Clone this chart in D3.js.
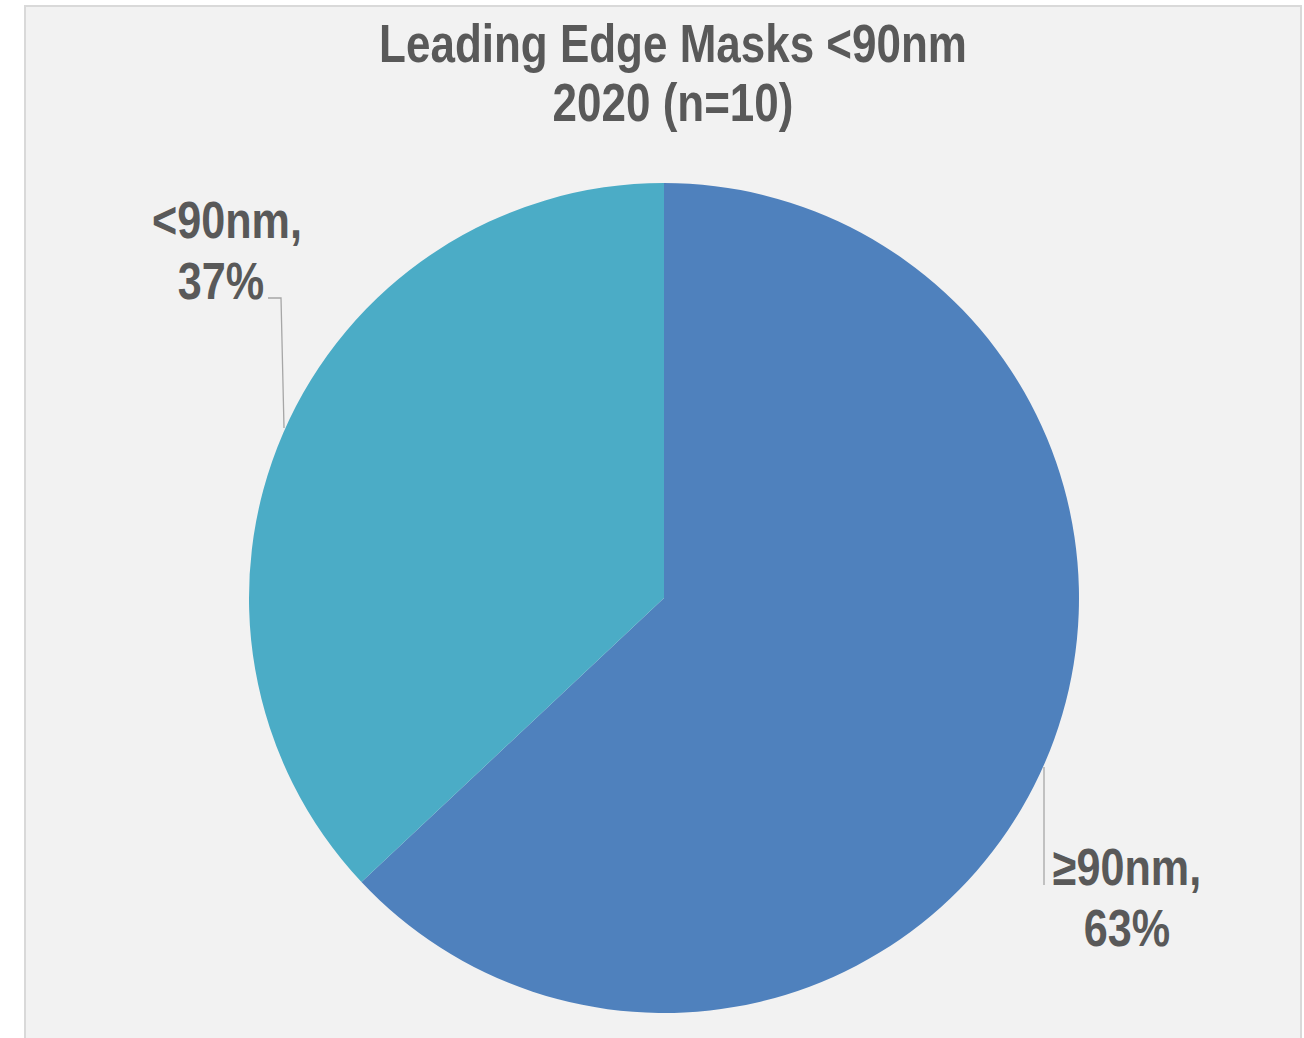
<!DOCTYPE html>
<html>
<head>
<meta charset="utf-8">
<script src="https://cdn.jsdelivr.net/npm/d3@7"></script>
<style>
  html, body { margin: 0; padding: 0; background: #ffffff; }
  #chart { width: 1304px; height: 1038px; }
</style>
</head>
<body>
<div id="chart"></div>
<script>
// --- data ---
const categories = ["≥90nm", "<90nm"];
const shares = [63, 37];
const sliceColors = ["#4f81bd", "#4bacc6"];
const titleLines = ["Leading Edge Masks <90nm", "2020 (n=10)"];

function drawPie() {
    const container = d3.select("#chart");
    container.selectAll("*").remove();

    const width = 1304;
    const height = 1038;
    const cx = 664, cy = 598;
    const radius = 415;
    const font = "'Liberation Sans Narrow', 'Arial Narrow', 'Liberation Sans', Arial, sans-serif";
    const textColor = "#595959";
    const narrow = 0.83; // squeeze to mimic Arial Narrow

    const svg = container.append("svg")
        .attr("width", width)
        .attr("height", height);

    // chart area background + border (runs past the bottom edge)
    svg.append("rect")
        .attr("x", 25).attr("y", 6)
        .attr("width", 1276).attr("height", 1060)
        .attr("fill", "#f2f2f2")
        .attr("stroke", "#d9d9d9")
        .attr("stroke-width", 2);

    // helper: centred bold text squeezed horizontally
    function narrowText(x, y, str, size) {
        svg.append("text")
            .attr("transform", `translate(${x},${y}) scale(${narrow},1)`)
            .attr("text-anchor", "middle")
            .attr("font-family", font)
            .attr("font-weight", "bold")
            .attr("font-size", size + "px")
            .attr("fill", textColor)
            .text(str);
    }

    // title
    titleLines.forEach((line, i) => narrowText(673, 62 + i * 59, line, 53));

    // pie layout, clockwise from 12 o'clock, no sorting
    const pie = d3.pie().sort(null).value(d => d);
    const arcs = pie(shares);
    const arc = d3.arc().innerRadius(0).outerRadius(radius);

    const g = svg.append("g").attr("transform", `translate(${cx},${cy})`);
    g.selectAll("path")
        .data(arcs)
        .join("path")
        .attr("d", arc)
        .attr("fill", (d, i) => sliceColors[i]);

    // data labels placed outside like the original, with leader lines
    const labelPos = [
        { x1: 1127, x2: 1127, y: 885, lead: [[1044, 885], [1044, 767]] },            // ≥90nm
        { x1: 227,  x2: 221,  y: 238, lead: [[268, 298], [281, 298], [284, 428]] }  // <90nm
    ];

    const line = d3.line();
    arcs.forEach((d, i) => {
        const p = labelPos[i];
        svg.append("path")
            .attr("d", line(p.lead))
            .attr("fill", "none")
            .attr("stroke", "#a6a6a6")
            .attr("stroke-width", 1.3);

        narrowText(p.x1, p.y, categories[i] + ",", 52);
        narrowText(p.x2, p.y + 61, shares[i] + "%", 52);
    });
}

drawPie();
</script>
</body>
</html>
